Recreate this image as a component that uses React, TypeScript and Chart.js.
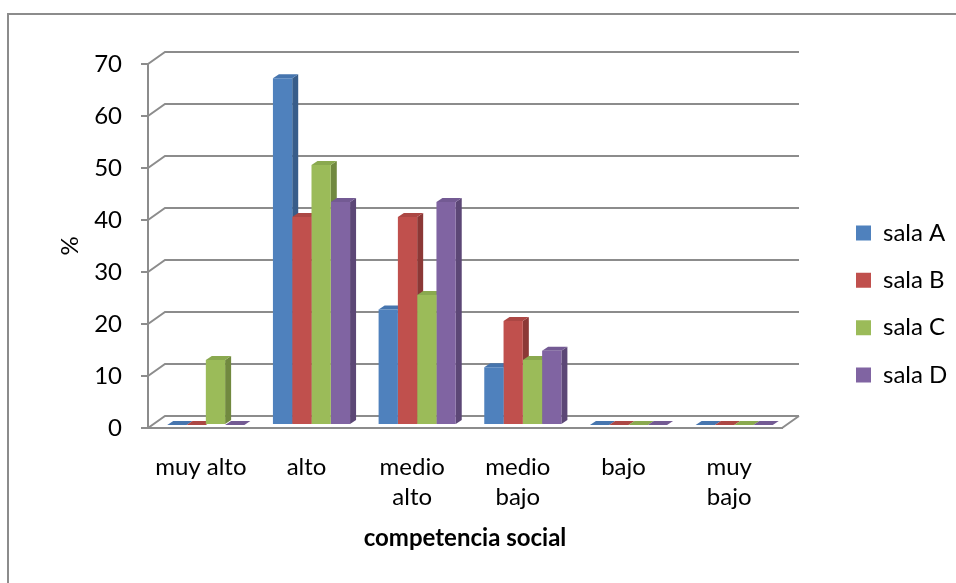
import React, { useEffect, useRef } from 'react';
import { Chart, registerables } from 'chart.js';

Chart.register(...registerables);

// ---- data ----
const categories: (string | string[])[] = ['muy alto', 'alto', ['medio', 'alto'], ['medio', 'bajo'], 'bajo', ['muy', 'bajo']];
const seriesNames = ['sala A', 'sala B', 'sala C', 'sala D'];
const salaA = [0, 66.7, 22.2, 11.1, 0, 0];
const salaB = [0, 40, 40, 20, 0, 0];
const salaC = [12.5, 50, 25, 12.5, 0, 0];
const salaD = [0, 42.9, 42.9, 14.3, 0, 0];
const yTicks = [0, 10, 20, 30, 40, 50, 60, 70];
const yAxisTitle = '%';
const xAxisTitle = 'competencia social';

// ---- styles ----
const frontColors = ['#4F81BD', '#C0504D', '#9BBB59', '#8064A2'];
const topColors = ['#4675AE', '#AC4744', '#8AA94F', '#735A93'];
const sideColors = ['#385D8A', '#8C3836', '#71893F', '#5C4776'];

const W = 956;
const H = 583;
const FONT = 'Lato, "Open Sans", sans-serif';
const FS = 24;
const LINE = '#8c8c8c';
const TEXT = '#000000';

const PLOT_LEFT = 148;
const PLOT_RIGHT = 782;
const PLOT_TOP = 64;
const PLOT_BOTTOM = 428;
const WALL_DX = 17;
const WALL_DY = 12;
const BAR_DX = 6;
const BAR_DY = 4;
const SHIFT_X = 5;
const SHIFT_Y = -3;

const LEG_PAD = 23.33;
const LEG_BOX_X = 856;
const LEG_BOX = 15;
const PAD_BOTTOM = 39;

const depthPlugin = {
  id: 'depth3d',
  beforeDraw(chart: any) {
    const { ctx, chartArea: a, scales } = chart;
    const ys = scales.y;
    ctx.save();
    ctx.lineWidth = 2;
    ctx.strokeStyle = LINE;
    // outer frame
    ctx.beginPath();
    ctx.moveTo(8, H + 10);
    ctx.lineTo(8, 14);
    ctx.lineTo(W + 10, 14);
    ctx.stroke();
    // side wall diagonals + back wall gridlines
    ctx.beginPath();
    yTicks.forEach((v) => {
      const py = ys.getPixelForValue(v);
      ctx.moveTo(a.left, py);
      ctx.lineTo(a.left + WALL_DX, py - WALL_DY);
      ctx.lineTo(a.right + WALL_DX, py - WALL_DY);
    });
    // floor right edge
    ctx.moveTo(a.right, a.bottom);
    ctx.lineTo(a.right + WALL_DX, a.bottom - WALL_DY);
    ctx.stroke();
    ctx.restore();
  },
  beforeDatasetsDraw(chart: any) {
    const { ctx } = chart;
    const bars: any[] = [];
    chart.data.datasets.forEach((_ds: any, i: number) => {
      const meta = chart.getDatasetMeta(i);
      if (meta.hidden) return;
      meta.data.forEach((el: any) => {
        const p = el.getProps(['x', 'y', 'base', 'width'], true);
        bars.push({ ...p, i });
      });
    });
    bars.sort((a, b) => a.x - b.x);
    ctx.save();
    ctx.translate(SHIFT_X, SHIFT_Y);
    for (const b of bars) {
      const l = b.x - b.width / 2;
      const r = b.x + b.width / 2;
      const t = Math.min(b.y, b.base);
      const bt = Math.max(b.y, b.base);
      if (bt - t > 0.5) {
        ctx.fillStyle = sideColors[b.i];
        ctx.beginPath();
        ctx.moveTo(r, t);
        ctx.lineTo(r + BAR_DX, t - BAR_DY);
        ctx.lineTo(r + BAR_DX, bt - BAR_DY);
        ctx.lineTo(r, bt);
        ctx.closePath();
        ctx.fill();
      }
      ctx.fillStyle = topColors[b.i];
      ctx.beginPath();
      ctx.moveTo(l, t);
      ctx.lineTo(r, t);
      ctx.lineTo(r + BAR_DX, t - BAR_DY);
      ctx.lineTo(l + BAR_DX, t - BAR_DY);
      ctx.closePath();
      ctx.fill();
    }
    ctx.restore();
    ctx.save();
    ctx.translate(SHIFT_X, SHIFT_Y);
  },
  afterDatasetsDraw(chart: any) {
    chart.ctx.restore();
  },
};

export default function App() {
  const ref = useRef<HTMLCanvasElement | null>(null);

  useEffect(() => {
    if (!ref.current) return;
    // measure legend text to place legend precisely
    const m = document.createElement('canvas').getContext('2d')!;
    m.font = `${FS}px ${FONT}`;
    const maxText = Math.max(...seriesNames.map((s) => m.measureText(s).width));
    const legendNatural = LEG_PAD + LEG_BOX + FS / 2 + maxText + 10;
    const legendLeft = LEG_BOX_X - LEG_PAD;
    const available = W - legendLeft;
    let padRight = available - legendNatural;
    let legMax: number | undefined = undefined;
    if (padRight < 0) {
      padRight = 0;
      legMax = available;
    }
    const dummyW = legendLeft - PLOT_RIGHT;

    const series = [salaA, salaB, salaC, salaD];
    const chart = new Chart(ref.current, {
      type: 'bar',
      data: {
        labels: categories,
        datasets: series.map((d, i) => ({
          label: seriesNames[i],
          data: d,
          backgroundColor: frontColors[i],
          borderWidth: 0,
          categoryPercentage: 0.73,
          barPercentage: 1.0,
          yAxisID: 'y',
        })),
      },
      options: {
        responsive: false,
        animation: false,
        events: [],
        layout: { padding: { top: PLOT_TOP, left: 0, right: padRight, bottom: PAD_BOTTOM } },
        plugins: {
          tooltip: { enabled: false },
          legend: {
            position: 'right',
            align: 'center',
            maxWidth: legMax,
            labels: {
              boxWidth: LEG_BOX,
              boxHeight: LEG_BOX,
              padding: LEG_PAD,
              color: TEXT,
              font: { family: FONT, size: FS },
            },
          },
        },
        scales: {
          x: {
            type: 'category',
            grid: { display: false, drawTicks: false },
            border: { display: true, color: LINE, width: 2 },
            ticks: {
              color: TEXT,
              padding: 24,
              maxRotation: 0,
              autoSkip: false,
              font: { family: FONT, size: FS, lineHeight: 1.25 },
            },
            title: {
              display: true,
              text: xAxisTitle,
              color: TEXT,
              font: { family: FONT, size: FS, weight: 'bold', lineHeight: 1.2 },
              padding: { top: 0, bottom: -8.4 },
            },
            afterFit: (s: any) => {
              s.height = PLOT_BOTTOM - (H - PAD_BOTTOM) < 0 ? H - PAD_BOTTOM - PLOT_BOTTOM : 100;
            },
          },
          y: {
            type: 'linear',
            position: 'left',
            min: 0,
            max: 70,
            afterBuildTicks: (s: any) => {
              s.ticks = yTicks.map((v) => ({ value: v }));
            },
            grid: { drawOnChartArea: false, drawTicks: true, tickLength: 7, color: LINE, lineWidth: 2 },
            border: { display: true, color: LINE, width: 2 },
            ticks: {
              color: TEXT,
              padding: 19,
              font: { family: FONT, size: FS },
            },
            title: {
              display: true,
              text: yAxisTitle,
              color: TEXT,
              font: { family: FONT, size: FS, lineHeight: 1.2 },
              padding: { top: 55.6, bottom: 0 },
            },
            afterFit: (s: any) => {
              s.width = PLOT_LEFT;
            },
          },
          yPad: {
            type: 'linear',
            axis: 'y',
            position: 'right',
            display: true,
            grid: { display: false, drawTicks: false },
            border: { display: false },
            ticks: { display: false },
            afterFit: (s: any) => {
              s.width = dummyW;
            },
          },
        },
      },
      plugins: [depthPlugin],
    } as any);
    return () => chart.destroy();
  }, []);

  return (
    <div style={{ position: 'fixed', left: 0, top: 0, width: W, height: H, background: '#fff' }}>
      <canvas ref={ref} width={W} height={H} style={{ width: W, height: H, display: 'block' }} />
    </div>
  );
}
